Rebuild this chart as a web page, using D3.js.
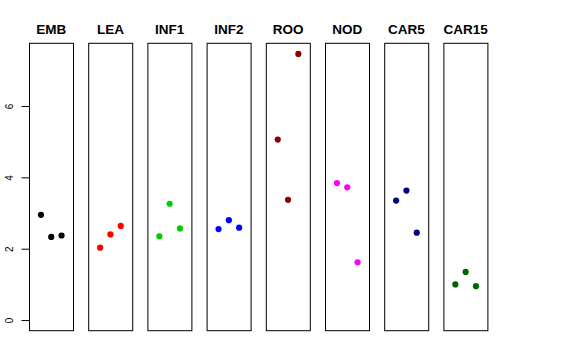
<!DOCTYPE html>
<html>
<head>
<meta charset="utf-8">
<script src="https://cdn.jsdelivr.net/npm/d3@7"></script>
<style>
html,body{margin:0;padding:0;background:#fff;}
svg{display:block;}
text{font-family:"Liberation Sans",Arial,Helvetica,sans-serif;}
</style>
</head>
<body>
<script>
const categories = ["EMB","LEA","INF1","INF2","ROO","NOD","CAR5","CAR15"];
const colors = ["#000000","#FF0000","#00CD00","#0000FF","#8B0000","#FF00FF","#000080","#006400"];
const values = [
  [2.95, 2.33, 2.37],
  [2.03, 2.40, 2.64],
  [2.35, 3.26, 2.57],
  [2.55, 2.80, 2.59],
  [5.06, 3.37, 7.46],
  [3.84, 3.72, 1.62],
  [3.35, 3.63, 2.45],
  [1.00, 1.35, 0.95]
];
const yTicks = [0, 2, 4, 6];

const W = 576, H = 360;
const svg = d3.select("body").append("svg").attr("width", W).attr("height", H);

const panelTop = 43.3, panelBottom = 330.7;
const panelW = 44.5, step = 59.2, left0 = 29;

const ymax = d3.max(values.flat());
const pad = ymax * 0.04;
const y = d3.scaleLinear().domain([0 - pad, ymax + pad]).range([panelBottom, panelTop]);

categories.forEach((cat, i) => {
  const x0 = left0 + i * step;
  const xs = d3.scaleLinear().domain([-0.16, 4.16]).range([x0, x0 + panelW]);
  const g = svg.append("g");
  g.append("rect")
    .attr("x", x0 + 0.5).attr("y", panelTop).attr("width", panelW - 0.5).attr("height", panelBottom - panelTop)
    .attr("fill", "none").attr("stroke", "#000").attr("stroke-width", 1);
  g.append("text")
    .attr("x", x0 + panelW / 2).attr("y", 34)
    .attr("text-anchor", "middle").attr("font-size", "13.5px").attr("font-weight", "bold")
    .text(cat);
  g.selectAll("circle").data(values[i]).enter().append("circle")
    .attr("cx", (d, j) => xs(j + 1))
    .attr("cy", d => y(d))
    .attr("r", 3.1)
    .attr("fill", colors[i]);
});

// y axis
const axis = d3.axisLeft(y).tickValues(yTicks).tickSize(8).tickSizeOuter(0).tickFormat(d3.format("d"));
const ag = svg.append("g").attr("transform", `translate(${left0 + 0.5},0)`).call(axis);
ag.select(".domain").attr("d", `M0,${y(yTicks[0])}V${y(yTicks[yTicks.length - 1])}`).attr("stroke", "#000");
ag.selectAll(".tick line").attr("stroke", "#000");
ag.selectAll(".tick text")
  .attr("font-size", "10px")
  .attr("font-family", "Liberation Sans, Arial, sans-serif")
  .attr("fill", "#000")
  .attr("x", null)
  .attr("text-anchor", "middle")
  .attr("transform", "translate(-20,0) rotate(-90)")
  .attr("dy", "0.35em");
</script>
</body>
</html>
